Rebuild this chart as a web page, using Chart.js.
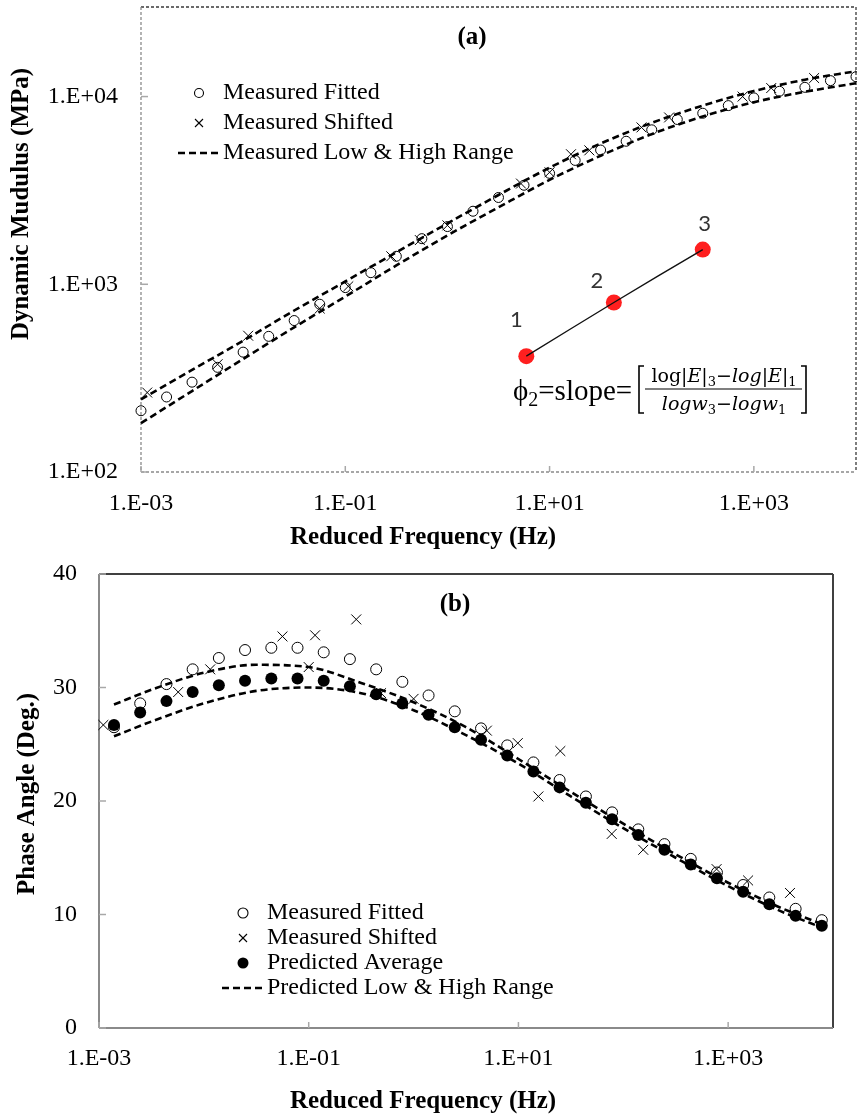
<!DOCTYPE html>
<html>
<head>
<meta charset="utf-8">
<title>Dynamic modulus and phase angle master curves</title>
<script src="https://cdn.jsdelivr.net/npm/chart.js@4.4.1/dist/chart.umd.min.js"></script>
<style>
  html, body { margin: 0; padding: 0; background: #fff; }
  #wrap { position: relative; width: 857px; height: 1116px; }
  canvas { position: absolute; left: 0; }
  #modulusChart { top: 0; }
  #phaseChart { top: 560px; }
</style>
</head>
<body>
<div id="wrap">
  <canvas id="modulusChart" width="857" height="560"></canvas>
  <canvas id="phaseChart" width="857" height="556"></canvas>
</div>
<script>
// Frequency ticks for both panels (every second decade)
const freqTicks = [0.001, 0.1, 10, 1000];

// (a) dynamic modulus, MPa
const fitFreqA = [0.001, 0.00178, 0.00316, 0.00562, 0.01, 0.0178, 0.0316, 0.0562, 0.1, 0.178,
    0.316, 0.562, 1, 1.78, 3.16, 5.62, 10, 17.8, 31.6, 56.2,
    100, 178, 316, 562, 1000, 1780, 3160, 5620, 10000];
const fitModulusA = [212, 251, 301, 361, 435, 528, 641, 783, 960, 1153,
    1410, 1750, 2030, 2450, 2900, 3370, 3900, 4570, 5190, 5780,
    6650, 7550, 8150, 8950, 9840, 10670, 11200, 12160, 12760];
const shiftFreqA = [0.00115, 0.00562, 0.0112, 0.0562, 0.107, 0.282, 0.537, 1.0, 5.25,
    10, 16.2, 24.5, 79.4, 148, 776, 1479, 3890];
const shiftModulusA = [265, 375, 532, 743, 975, 1410, 1720, 2060, 3440,
    3950, 4930, 5170, 6850, 7740, 10000, 11100, 12550];
const rangeFreqA = [0.001, 0.00316, 0.01, 0.0316, 0.1, 0.316, 1, 3.16, 10, 31.6, 100, 316, 1000, 3160, 10000];
const highModulusA = [244, 350, 500, 725, 1035, 1480, 2110, 2990, 4180, 5620, 7240, 8950, 10700, 12300, 13650];
const lowModulusA = [182, 270, 400, 590, 860, 1260, 1820, 2570, 3600, 4840, 6310, 7830, 9330, 10600, 11780];
const modulusTicks = [100, 1000, 10000];

// slope sketch: three points on the curve
const slopeFreq = [5.92, 42.6, 316];
const slopeModulus = [414, 800, 1531];
const slopeLabels = ['1', '2', '3'];

// (b) phase angle, degrees
const fitFreqB = [0.00139, 0.00247, 0.0044, 0.00782, 0.0139, 0.0247, 0.044, 0.0782, 0.139, 0.247,
    0.44, 0.782, 1.39, 2.47, 4.4, 7.82, 13.9, 24.7, 44, 78.2,
    139, 247, 440, 782, 1390, 2470, 4400, 7820];
const fitPhaseB = [26.5, 28.6, 30.3, 31.6, 32.6, 33.3, 33.5, 33.5, 33.1, 32.5,
    31.6, 30.5, 29.3, 27.9, 26.4, 24.9, 23.4, 21.85, 20.4, 19.0,
    17.5, 16.2, 14.9, 13.7, 12.6, 11.5, 10.5, 9.5];
const avgPhaseB = [26.7, 27.8, 28.8, 29.6, 30.2, 30.6, 30.8, 30.8, 30.6, 30.1,
    29.4, 28.6, 27.6, 26.5, 25.4, 24.0, 22.6, 21.2, 19.85, 18.4,
    17.0, 15.7, 14.4, 13.2, 12.0, 10.9, 9.9, 9.0];
const shiftFreqB = [0.0011, 0.00569, 0.0115, 0.0562, 0.1, 0.115, 0.284, 0.49, 1.0,
    5.0, 9.86, 15.5, 25.1, 77.6, 155, 776, 1550, 3890];
const shiftPhaseB = [26.7, 29.6, 31.6, 34.5, 31.8, 34.6, 36.0, 29.5, 29.0,
    26.2, 25.1, 20.4, 24.4, 17.1, 15.7, 14.0, 13.0, 11.9];
const rangeFreqB = [0.00139, 0.00316, 0.01, 0.0316, 0.1, 0.316, 1, 3.16, 10, 31.6, 100, 316, 1000, 3160, 7820];
const highPhaseB = [28.5, 29.8, 31.3, 32.0, 31.8, 30.4, 28.7, 26.5, 23.7, 20.8, 18.0, 15.3, 12.8, 10.6, 9.15];
const lowPhaseB = [25.7, 27.0, 28.6, 29.7, 30.0, 29.5, 28.0, 25.8, 23.3, 20.4, 17.6, 15.0, 12.5, 10.3, 8.85];
const phaseTicks = [0, 10, 20, 30, 40];

const SERIF = '"Liberation Serif", "Times New Roman", serif';
const MATH = '"DejaVu Serif", serif';

Chart.defaults.font.family = SERIF;
Chart.defaults.font.size = 24;
Chart.defaults.color = '#000';

function toPoints(xs, ys) {
    return xs.map((x, i) => ({ x: x, y: ys[i] }));
}

// Excel style "0.E+00" labels
function sciLabel(value) {
    const exp = Math.round(Math.log10(value));
    return '1.E' + (exp < 0 ? '-' : '+') + String(Math.abs(exp)).padStart(2, '0');
}

function strokeLine(ctx, x1, y1, x2, y2, color) {
    ctx.strokeStyle = color;
    ctx.beginPath();
    ctx.moveTo(x1, y1);
    ctx.lineTo(x2, y2);
    ctx.stroke();
}

// Plot frame plus short inward tick marks
const plotFrame = {
    id: 'plotFrame',
    beforeDatasetsDraw(chart, args, opts) {
        const { ctx, chartArea: a, scales } = chart;
        ctx.save();
        ctx.lineWidth = opts.width;
        ctx.setLineDash(opts.dash || []);
        strokeLine(ctx, a.left, a.top, a.right, a.top, opts.edgeColor);
        strokeLine(ctx, a.right, a.top, a.right, a.bottom, opts.edgeColor);
        strokeLine(ctx, a.left, a.top, a.left, a.bottom, opts.axisColor);
        strokeLine(ctx, a.left, a.bottom, a.right, a.bottom, opts.axisColor);
        ctx.setLineDash([]);
        ctx.lineWidth = 1.5;
        scales.x.ticks.forEach(t => {
            const px = scales.x.getPixelForValue(t.value);
            strokeLine(ctx, px, a.bottom, px, a.bottom - 6, opts.tickColor);
        });
        scales.y.ticks.forEach(t => {
            const py = scales.y.getPixelForValue(t.value);
            strokeLine(ctx, a.left, py, a.left + 7, py, opts.tickColor);
        });
        ctx.restore();
    }
};

// Panel tag and axis titles
const chartText = {
    id: 'chartText',
    afterDraw(chart, args, opts) {
        const ctx = chart.ctx;
        ctx.save();
        ctx.fillStyle = '#000';
        ctx.textAlign = 'center';
        ctx.textBaseline = 'middle';
        ctx.font = 'bold 25px ' + SERIF;
        ctx.fillText(opts.panel, opts.panelAt[0], opts.panelAt[1]);
        ctx.fillText(opts.xTitle, opts.xTitleAt[0], opts.xTitleAt[1]);
        ctx.translate(opts.yTitleAt[0], opts.yTitleAt[1]);
        ctx.rotate(-Math.PI / 2);
        ctx.fillText(opts.yTitle, 0, 0);
        ctx.restore();
    }
};

function drawSwatch(ctx, ds, x, y) {
    ctx.save();
    ctx.strokeStyle = '#000';
    ctx.fillStyle = '#000';
    ctx.lineWidth = 1.1;
    if (ds.showLine) {
        ctx.lineWidth = ds.borderWidth;
        ctx.setLineDash(ds.borderDash || []);
        strokeLine(ctx, x - 21, y, x + 21, y, '#000');
    } else if (ds.pointStyle === 'crossRot') {
        const h = 4;
        strokeLine(ctx, x - h, y - h, x + h, y + h, '#000');
        strokeLine(ctx, x - h, y + h, x + h, y - h, '#000');
    } else {
        ctx.beginPath();
        ctx.arc(x, y, ds.pointRadius - 0.5, 0, Math.PI * 2);
        if (ds.pointBackgroundColor === '#000') ctx.fill();
        else ctx.stroke();
    }
    ctx.restore();
}

// Legend drawn inside the plot, one row per labelled dataset
const markerLegend = {
    id: 'markerLegend',
    afterDatasetsDraw(chart, args, opts) {
        const ctx = chart.ctx;
        let y = opts.y;
        ctx.save();
        ctx.font = '24px ' + SERIF;
        ctx.textBaseline = 'middle';
        ctx.textAlign = 'left';
        chart.data.datasets.forEach(ds => {
            if (!ds.label) return;
            drawSwatch(ctx, ds, opts.x, y);
            ctx.fillStyle = '#000';
            ctx.fillText(ds.label, opts.x + 24, y);
            y += opts.step;
        });
        ctx.restore();
    }
};

function drawRun(ctx, parts, x, y) {
    parts.forEach(p => {
        ctx.font = p[1];
        ctx.fillText(p[0], x, y + (p[2] || 0));
        x += ctx.measureText(p[0]).width;
    });
    return x;
}

function runWidth(ctx, parts) {
    let w = 0;
    parts.forEach(p => {
        ctx.font = p[1];
        w += ctx.measureText(p[0]).width;
    });
    return w;
}

// Point numbers and the slope formula next to the sketch
const slopeNote = {
    id: 'slopeNote',
    afterDatasetsDraw(chart, args, opts) {
        const ctx = chart.ctx;
        const meta = chart.getDatasetMeta(opts.datasetIndex);
        const offsets = [[-10, -36], [-17, -22], [2, -26]];
        ctx.save();
        ctx.fillStyle = '#333';
        ctx.textAlign = 'center';
        ctx.textBaseline = 'middle';
        ctx.font = '22px Lato, "Liberation Sans", sans-serif';
        meta.data.forEach((pt, i) => {
            ctx.fillText(slopeLabels[i], pt.x + offsets[i][0], pt.y + offsets[i][1]);
        });

        ctx.fillStyle = '#000';
        ctx.textAlign = 'left';
        ctx.textBaseline = 'alphabetic';
        const big = '29px ' + SERIF;
        drawRun(ctx, [['\u03D5', big], ['2', '20px ' + SERIF, 6], ['=slope=', big]], 513, 400);

        const up = '19px ' + MATH, it = 'italic 19px ' + MATH, sub = '13px ' + MATH;
        const num = [['log', up], ['|', up], ['E', it], ['|', up], ['3', sub, 4], ['\u2212', up],
            ['log', it], ['|', up], ['E', it], ['|', up], ['1', sub, 4]];
        const den = [['log', it], ['w', it], ['3', sub, 4], ['\u2212', up], ['log', it], ['w', it], ['1', sub, 4]];
        const cx = 724;
        drawRun(ctx, num, cx - runWidth(ctx, num) / 2, 382);
        drawRun(ctx, den, cx - runWidth(ctx, den) / 2, 410);

        ctx.lineWidth = 1.2;
        strokeLine(ctx, 645, 389, 802, 389, '#000');
        ctx.lineWidth = 1.6;
        ctx.strokeStyle = '#000';
        ctx.beginPath();
        ctx.moveTo(644, 366); ctx.lineTo(639, 366); ctx.lineTo(639, 413); ctx.lineTo(644, 413);
        ctx.moveTo(801, 366); ctx.lineTo(806, 366); ctx.lineTo(806, 413); ctx.lineTo(801, 413);
        ctx.stroke();
        ctx.restore();
    }
};

// value axes: fixed width, no label overhang pushing the plot down
function valueAxisFit(width) {
    return scale => {
        scale.width = width;
        scale.paddingTop = 0;
        scale.paddingBottom = 0;
    };
}

function freqAxis(tickPadding) {
    return {
        type: 'logarithmic',
        min: 0.001,
        max: 10000,
        grid: { display: false, drawTicks: false },
        border: { display: false },
        afterBuildTicks: scale => { scale.ticks = freqTicks.map(v => ({ value: v })); },
        afterFit: scale => { scale.height = 88; },
        ticks: { padding: tickPadding, maxRotation: 0, autoSkip: false, callback: v => sciLabel(v) }
    };
}

// (a) Dynamic modulus master curve
new Chart(document.getElementById('modulusChart'), {
    type: 'scatter',
    data: {
        datasets: [
            {
                label: 'Measured Fitted',
                data: toPoints(fitFreqA, fitModulusA),
                pointStyle: 'circle', pointRadius: 5,
                borderColor: '#000', backgroundColor: 'rgba(0,0,0,0)',
                pointBackgroundColor: 'rgba(0,0,0,0)', borderWidth: 1,
                clip: false, order: 1
            },
            {
                label: 'Measured Shifted',
                data: toPoints(shiftFreqA, shiftModulusA),
                pointStyle: 'crossRot', pointRadius: 7,
                borderColor: '#000', borderWidth: 1,
                clip: false, order: 2
            },
            {
                label: 'Measured Low & High Range',
                data: toPoints(rangeFreqA, highModulusA),
                showLine: true, pointRadius: 0,
                borderColor: '#000', borderWidth: 2.6, borderDash: [7, 4],
                cubicInterpolationMode: 'monotone', clip: false, order: 3
            },
            {
                label: '',
                data: toPoints(rangeFreqA, lowModulusA),
                showLine: true, pointRadius: 0,
                borderColor: '#000', borderWidth: 2.6, borderDash: [7, 4],
                cubicInterpolationMode: 'monotone', clip: false, order: 3
            },
            {
                label: '',
                data: toPoints(slopeFreq, slopeModulus),
                pointStyle: 'circle', pointRadius: 8,
                pointBackgroundColor: '#ff1f1f', backgroundColor: '#ff1f1f',
                borderWidth: 0, order: 5
            },
            {
                label: '',
                data: toPoints(slopeFreq, slopeModulus),
                showLine: true, pointRadius: 0, tension: 0.4,
                borderColor: '#111', borderWidth: 1.4, order: 0
            }
        ]
    },
    options: {
        responsive: false,
        animation: false,
        events: [],
        layout: { autoPadding: false, padding: { left: 0, right: 1, top: 7, bottom: 0 } },
        scales: {
            x: freqAxis(17),
            y: {
                type: 'logarithmic',
                min: 100,
                max: 30000,
                grid: { display: false, drawTicks: false },
                border: { display: false },
                afterBuildTicks: scale => { scale.ticks = modulusTicks.map(v => ({ value: v })); },
                afterFit: valueAxisFit(141),
                ticks: { padding: 23, callback: v => sciLabel(v) }
            }
        },
        plugins: {
            legend: { display: false },
            tooltip: { enabled: false },
            plotFrame: { width: 1.3, dash: [3, 2], axisColor: '#8a8a8a', edgeColor: '#3a3a3a', tickColor: '#a8a8a8' },
            chartText: {
                panel: '(a)', panelAt: [472, 38],
                xTitle: 'Reduced Frequency (Hz)', xTitleAt: [423, 538],
                yTitle: 'Dynamic Mudulus (MPa)', yTitleAt: [22, 204]
            },
            markerLegend: { x: 199, y: 93, step: 30 },
            slopeNote: { datasetIndex: 4 }
        }
    },
    plugins: [plotFrame, chartText, markerLegend, slopeNote]
});

// (b) Phase angle master curve
new Chart(document.getElementById('phaseChart'), {
    type: 'scatter',
    data: {
        datasets: [
            {
                label: 'Measured Fitted',
                data: toPoints(fitFreqB, fitPhaseB),
                pointStyle: 'circle', pointRadius: 5.5,
                borderColor: '#000', backgroundColor: 'rgba(0,0,0,0)',
                pointBackgroundColor: 'rgba(0,0,0,0)', borderWidth: 1,
                clip: false, order: 1
            },
            {
                label: 'Measured Shifted',
                data: toPoints(shiftFreqB, shiftPhaseB),
                pointStyle: 'crossRot', pointRadius: 7,
                borderColor: '#000', borderWidth: 1,
                clip: false, order: 2
            },
            {
                label: 'Predicted Average',
                data: toPoints(fitFreqB, avgPhaseB),
                pointStyle: 'circle', pointRadius: 6,
                borderColor: '#000', backgroundColor: '#000',
                pointBackgroundColor: '#000', borderWidth: 0,
                clip: false, order: 0
            },
            {
                label: 'Predicted Low & High Range',
                data: toPoints(rangeFreqB, highPhaseB),
                showLine: true, pointRadius: 0,
                borderColor: '#000', borderWidth: 2.6, borderDash: [7, 4],
                cubicInterpolationMode: 'monotone', clip: false, order: 3
            },
            {
                label: '',
                data: toPoints(rangeFreqB, lowPhaseB),
                showLine: true, pointRadius: 0,
                borderColor: '#000', borderWidth: 2.6, borderDash: [7, 4],
                cubicInterpolationMode: 'monotone', clip: false, order: 3
            }
        ]
    },
    options: {
        responsive: false,
        animation: false,
        events: [],
        layout: { autoPadding: false, padding: { left: 0, right: 24, top: 14, bottom: 0 } },
        scales: {
            x: freqAxis(16),
            y: {
                type: 'linear',
                min: 0,
                max: 40,
                grid: { display: false, drawTicks: false },
                border: { display: false },
                afterBuildTicks: scale => { scale.ticks = phaseTicks.map(v => ({ value: v })); },
                afterFit: valueAxisFit(99),
                ticks: { padding: 22 }
            }
        },
        plugins: {
            legend: { display: false },
            tooltip: { enabled: false },
            plotFrame: { width: 2, axisColor: '#8a8a8a', edgeColor: '#404040', tickColor: '#a8a8a8' },
            chartText: {
                panel: '(b)', panelAt: [455, 45],
                xTitle: 'Reduced Frequency (Hz)', xTitleAt: [423, 542],
                yTitle: 'Phase Angle (Deg.)', yTitleAt: [28, 234]
            },
            markerLegend: { x: 243, y: 353, step: 25 }
        }
    },
    plugins: [plotFrame, chartText, markerLegend]
});
</script>
</body>
</html>
